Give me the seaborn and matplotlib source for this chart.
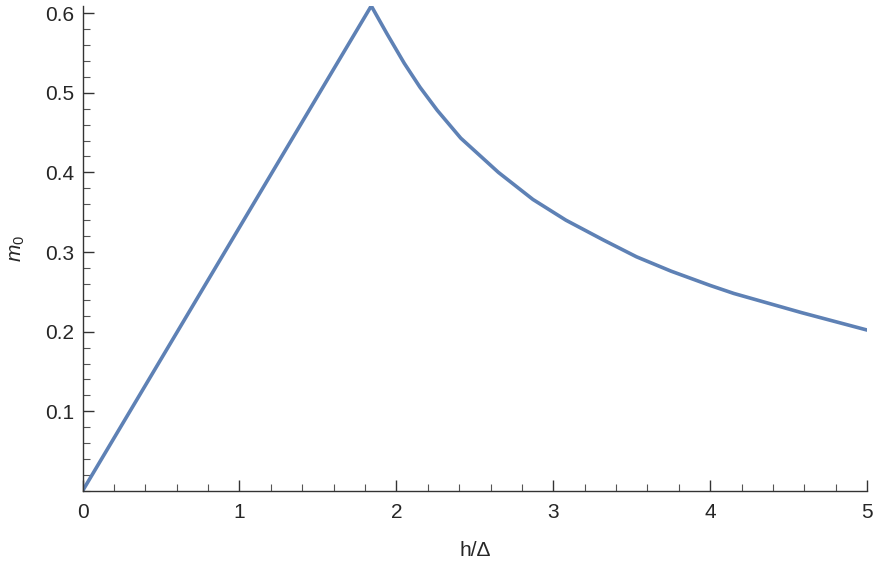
import numpy as np
import pandas as pd
import seaborn as sns
import matplotlib.pyplot as plt
from matplotlib.ticker import MultipleLocator

# values
h_vals = [0.0, 1.0, 1.84, 1.94, 2.05, 2.15, 2.26, 2.41, 2.65, 2.87, 3.08,
          3.32, 3.53, 3.75, 4.0, 4.15, 4.58, 5.0]
m0_vals = [0.0, 0.331, 0.609, 0.574, 0.537, 0.507, 0.478, 0.443, 0.400,
           0.366, 0.340, 0.315, 0.294, 0.276, 0.258, 0.248, 0.224, 0.202]

x_ticks = [0, 1, 2, 3, 4, 5]
y_ticks = [0.1, 0.2, 0.3, 0.4, 0.5, 0.6]

sns.set_style("ticks")
plt.rcParams['font.family'] = ['Liberation Sans', 'DejaVu Sans']
plt.rcParams['mathtext.fontset'] = 'custom'
plt.rcParams['mathtext.it'] = 'Liberation Sans:italic'
plt.rcParams['mathtext.rm'] = 'Liberation Sans'

df = pd.DataFrame({'h': h_vals, 'm0': m0_vals})

fig = plt.figure(figsize=(8.75, 5.68), dpi=100)
ax = fig.add_axes([0.0943, 0.1356, 0.8968, 0.854])

sns.lineplot(x='h', y='m0', data=df, ax=ax, color='#5E81B5', linewidth=2.6,
             sort=False)

ax.set_xlim(0, 5)
ax.set_ylim(0, 0.609)
ax.set_xticks(x_ticks)
ax.set_yticks(y_ticks)
ax.set_yticklabels([f"{v:.1f}" for v in y_ticks])
ax.xaxis.set_minor_locator(MultipleLocator(0.2))
ax.yaxis.set_minor_locator(MultipleLocator(0.02))

ax.tick_params(which='major', direction='in', length=8, width=1,
               color='#333333', labelsize=15)
ax.tick_params(which='minor', direction='in', length=5, width=0.8,
               color='#555555')
ax.tick_params(axis='x', which='major', pad=9)
ax.tick_params(axis='y', which='major', pad=6)

for side in ['top', 'right']:
    ax.spines[side].set_visible(False)
for side in ['left', 'bottom']:
    ax.spines[side].set_color('#333333')
    ax.spines[side].set_linewidth(1)

ax.set_xlabel('h/Δ', fontsize=15, labelpad=13)
ax.set_ylabel(r'$m_0$', fontsize=15, labelpad=13)

plt.savefig('out.png', dpi=100)
